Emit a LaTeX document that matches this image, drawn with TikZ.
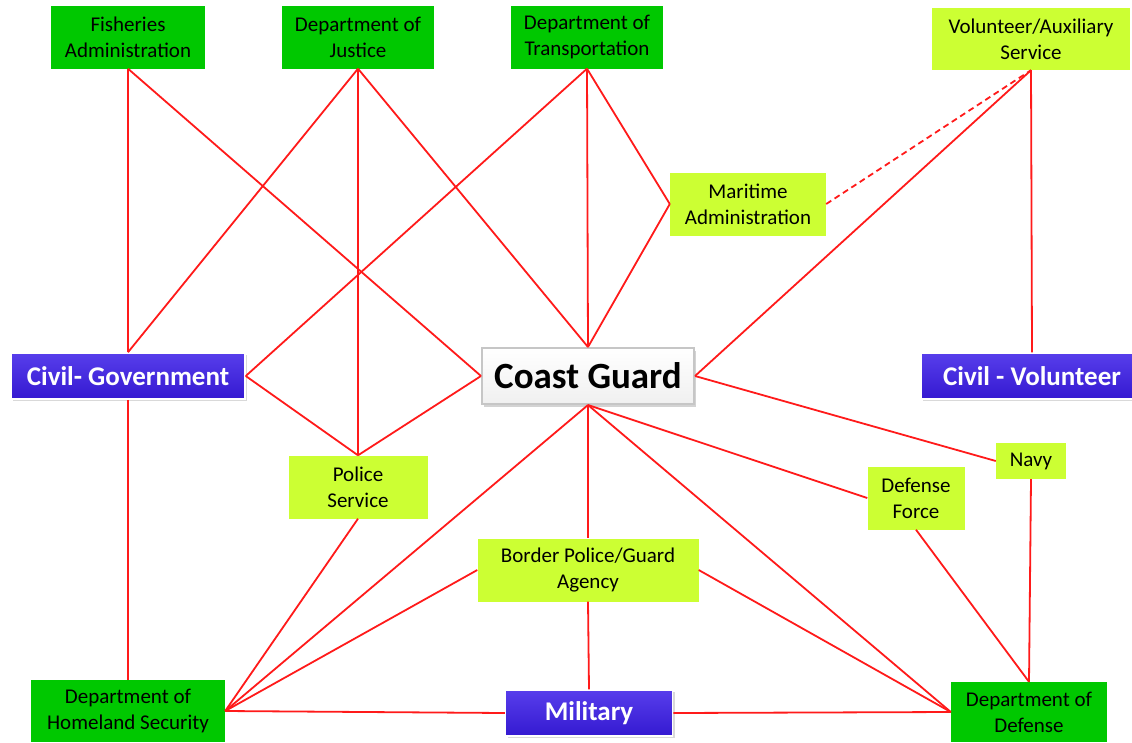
\documentclass[tikz,border=0pt]{standalone}
\usepackage{fontspec}
\setmainfont{Carlito}
\usetikzlibrary{shadows}
\definecolor{deptgreen}{HTML}{00C800}
\definecolor{unitlime}{HTML}{CCFF33}
\definecolor{sectorblue}{HTML}{3A1CE8}
\definecolor{linkred}{HTML}{FF1A1A}

\begin{document}
\begin{tikzpicture}[x=1pt, y=-1pt,
      agency/.style={rectangle, fill=deptgreen, align=center, inner sep=0pt, minimum width=#1, minimum height=63pt, font=\fontsize{21}{26}\selectfont},
      unit/.style={rectangle, fill=unitlime, align=center, inner sep=0pt, minimum width=#1, minimum height=63pt, font=\fontsize{21}{26}\selectfont},
      sector/.style={rectangle, draw=white, line width=1.5pt, top color=sectorblue!85!white, bottom color=sectorblue!90!black, text=white, inner sep=0pt, minimum width=#1, minimum height=46pt, font=\fontsize{27}{30}\selectfont\bfseries, drop shadow={opacity=0.3, shadow xshift=2pt, shadow yshift=-2pt}},
      hub/.style={rectangle, draw=gray!45, line width=2pt, top color=white, bottom color=gray!12, inner sep=0pt, minimum width=212pt, minimum height=56pt, font=\fontsize{37}{40}\selectfont\bfseries, drop shadow={opacity=0.35, shadow xshift=2pt, shadow yshift=-3pt}},
      link/.style={draw=linkred, line width=1.8pt}
    ]
      \useasboundingbox (0,0) rectangle (1132,742);

      % Top row: departments
      \node[agency=154pt] (fisheries) at (128,37) {Fisheries\\Administration};
      \node[agency=152pt] (justice) at (358,37) {Department of\\Justice};
      \node[agency=152pt] (transport) at (587,37) {Department of\\Transportation};
      \node[unit=198pt, minimum height=62pt] (volunteer) at (1031,39) {Volunteer/Auxiliary\\Service};
      \node[unit=156pt] (maritime) at (748,204) {Maritime\\Administration};

      % Middle row: sectors and hub
      \node[sector=234pt] (civgov) at (128,376) {Civil- Government};
      \node[hub] (coast) at (588,376) {Coast Guard};
      \node[sector=222pt] (civvol) at (1032,376) {Civil - Volunteer};

      % Lower units
      \node[unit=139pt] (police) at (358,487) {Police\\Service};
      \node[unit=221pt] (border) at (588,570) {Border Police/Guard\\Agency};
      \node[unit=97pt] (defforce) at (916,498) {Defense\\Force};
      \node[unit=70pt, minimum height=36pt] (navy) at (1031,461) {Navy};

      % Bottom row
      \node[agency=194pt, minimum height=62pt] (homeland) at (128,711) {Department of\\Homeland Security};
      \node[sector=167pt] (military) at (589,713) {Military};
      \node[agency=156pt, minimum height=60pt] (defense) at (1029,712) {Department of\\Defense};

      % Links
      \draw[link] (fisheries.south) -- (civgov.north);
      \draw[link] (fisheries.south) -- (coast.west);
      \draw[link] (justice.south) -- (civgov.north);
      \draw[link] (justice.south) -- (police.north);
      \draw[link] (justice.south) -- (coast.north);
      \draw[link] (transport.south) -- (coast.north);
      \draw[link] (transport.south) -- (civgov.east);
      \draw[link] (transport.south) -- (maritime.west);
      \draw[link] (maritime.west) -- (coast.north);
      \draw[link, dash pattern=on 6pt off 4pt] (maritime.east) -- (volunteer.south);
      \draw[link] (volunteer.south) -- (coast.east);
      \draw[link] (volunteer.south) -- (civvol.north);
      \draw[link] (civgov.east) -- (police.north);
      \draw[link] (police.north) -- (coast.west);
      \draw[link] (civgov.south) -- (homeland.north);
      \draw[link] (police.south) -- (homeland.east);
      \draw[link] (coast.south) -- (homeland.east);
      \draw[link] (coast.south) -- (border.north);
      \draw[link] (coast.south) -- (defense.west);
      \draw[link] (coast.south) -- (defforce.west);
      \draw[link] (coast.east) -- (navy.west);
      \draw[link] (border.west) -- (homeland.east);
      \draw[link] (border.east) -- (defense.west);
      \draw[link] (border.south) -- (military.north);
      \draw[link] (homeland.east) -- (military.west);
      \draw[link] (military.east) -- (defense.west);
      \draw[link] (defforce.south) -- (defense.north);
      \draw[link] (navy.south) -- (defense.north);
    \end{tikzpicture}
\end{document}
